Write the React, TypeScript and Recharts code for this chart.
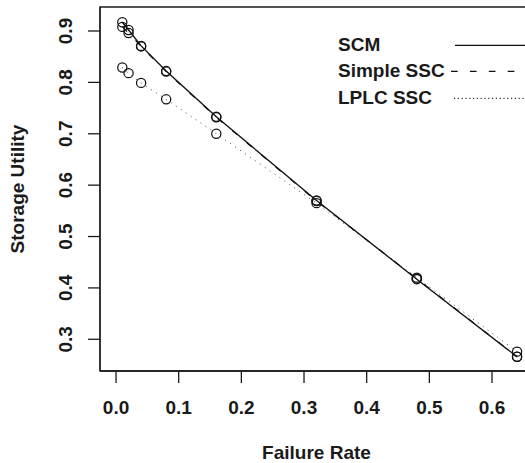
import React from 'react';
import { LineChart, Line, XAxis, YAxis, ReferenceArea } from 'recharts';

// ---- data ----
const failureRates = [0.01, 0.02, 0.04, 0.08, 0.16, 0.32, 0.48, 0.64];
const scm = [0.917, 0.902, 0.871, 0.822, 0.733, 0.570, 0.417, 0.266];
const simpleSsc = [0.908, 0.896, 0.870, 0.821, 0.732, 0.569, 0.418, 0.266];
const lplcSsc = [0.829, 0.818, 0.799, 0.767, 0.700, 0.565, 0.420, 0.276];

const xTicks = [0.0, 0.1, 0.2, 0.3, 0.4, 0.5, 0.6];
const yTicks = [0.3, 0.4, 0.5, 0.6, 0.7, 0.8, 0.9];
const legendLabels = ['SCM', 'Simple SSC', 'LPLC SSC'];
const xTitle = 'Failure Rate';
const yTitle = 'Storage Utility';

const X_MIN = -0.0256;
const X_MAX = 0.6656;
const Y_MIN = 0.2383;
const Y_MAX = 0.9467;

const rows = failureRates.map((x, i) => ({
  x,
  scm: scm[i],
  simple: simpleSsc[i],
  lplc: lplcSsc[i],
}));

const FONT = '"Liberation Sans", Arial, Helvetica, sans-serif';
const INK = '#1a1a1a';
const FS = 19;

const XTick = (props: any) => {
  const { x, payload } = props;
  return (
    <text x={x} y={413.5} textAnchor="middle" fontFamily={FONT} fontWeight="bold" fontSize={FS} fill={INK}>
      {Number(payload.value).toFixed(1)}
    </text>
  );
};

const YTick = (props: any) => {
  const { y, payload } = props;
  return (
    <text
      transform={`translate(71.8, ${y}) rotate(-90)`}
      textAnchor="middle"
      fontFamily={FONT}
      fontWeight="bold"
      fontSize={FS}
      fill={INK}
    >
      {Number(payload.value).toFixed(1)}
    </text>
  );
};

const renderDot = (p: any) => (
  <circle
    key={`${p.dataKey}-${p.index}`}
    cx={p.cx}
    cy={p.cy}
    r={4.6}
    fill="none"
    stroke="#111"
    strokeWidth={1.25}
  />
);

const legendStyles = [
  { dash: undefined, start: 455, color: '#111', width: 1.3 },
  { dash: '6.7 12.2', start: 451, color: '#111', width: 1.2 },
  { dash: '1.2 2.6', start: 454, color: '#333', width: 1.1 },
];

export default function App() {
  return (
    <div
      style={{
        position: 'absolute',
        left: 0,
        top: 0,
        width: 525,
        height: 463,
        overflow: 'hidden',
        background: '#fff',
      }}
    >
      <LineChart width={545} height={463} data={rows} margin={{ top: 7, right: 11.9, bottom: 0, left: 0 }}>
        <XAxis
          type="number"
          dataKey="x"
          domain={[X_MIN, X_MAX]}
          allowDataOverflow
          ticks={xTicks}
          interval={0}
          tick={<XTick />}
          tickSize={12}
          height={92}
          axisLine={{ stroke: INK, strokeWidth: 1.3 }}
          tickLine={{ stroke: INK, strokeWidth: 1.3 }}
          label={{
            value: xTitle,
            content: () => (
              <text x={316.5} y={459} textAnchor="middle" fontFamily={FONT} fontWeight="bold" fontSize={FS} fill={INK}>
                {xTitle}
              </text>
            ),
          }}
        />
        <YAxis
          type="number"
          domain={[Y_MIN, Y_MAX]}
          allowDataOverflow
          ticks={yTicks}
          interval={0}
          tick={<YTick />}
          tickSize={12}
          width={100}
          axisLine={{ stroke: INK, strokeWidth: 1.3 }}
          tickLine={{ stroke: INK, strokeWidth: 1.3 }}
          label={{
            value: yTitle,
            content: () => (
              <text
                transform="translate(24, 189) rotate(-90)"
                textAnchor="middle"
                fontFamily={FONT}
                fontWeight="bold"
                fontSize={FS}
                fill={INK}
              >
                {yTitle}
              </text>
            ),
          }}
        />
        <ReferenceArea
          x1={X_MIN}
          x2={X_MAX}
          y1={Y_MIN}
          y2={Y_MAX}
          fill="none"
          fillOpacity={0}
          stroke={INK}
          strokeWidth={1.3}
          ifOverflow="visible"
        />
        <Line
          type="linear"
          dataKey="lplc"
          stroke="#444"
          strokeWidth={1}
          strokeDasharray="1 5"
          dot={renderDot}
          activeDot={false}
          isAnimationActive={false}
        />
        <Line
          type="linear"
          dataKey="simple"
          stroke="#111"
          strokeWidth={1.2}
          strokeDasharray="6.7 12.2"
          dot={renderDot}
          activeDot={false}
          isAnimationActive={false}
        />
        <Line
          type="linear"
          dataKey="scm"
          stroke="#111"
          strokeWidth={1.35}
          dot={renderDot}
          activeDot={false}
          isAnimationActive={false}
        />
      </LineChart>
      <div
        style={{
          position: 'absolute',
          left: 338,
          top: 31.7,
          width: 190,
          fontFamily: FONT,
          fontWeight: 'bold',
          fontSize: FS,
          color: INK,
        }}
      >
        {legendLabels.map((label, i) => {
          const s = legendStyles[i];
          return (
            <div
              key={label}
              style={{ position: 'relative', height: 26.7, lineHeight: '26.7px', whiteSpace: 'nowrap' }}
            >
              {label}
              <svg
                style={{ position: 'absolute', left: s.start - 338, top: 0 }}
                width={100}
                height={26.7}
              >
                <line
                  x1={0}
                  y1={13.35}
                  x2={100}
                  y2={13.35}
                  stroke={s.color}
                  strokeWidth={s.width}
                  strokeDasharray={s.dash}
                />
              </svg>
            </div>
          );
        })}
      </div>
    </div>
  );
}
